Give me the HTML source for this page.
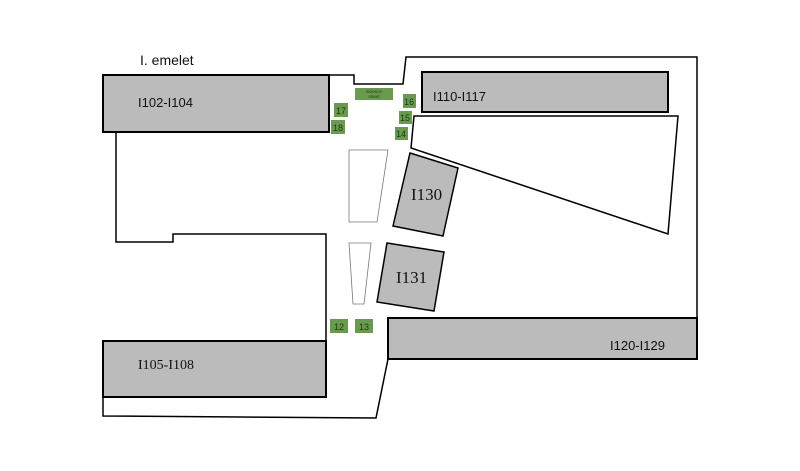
<!DOCTYPE html>
<html><head><style>body{margin:0;background:#fff}svg{display:block}</style></head><body>
<svg width="800" height="471" viewBox="0 0 800 471" xmlns="http://www.w3.org/2000/svg" font-family="Liberation Sans, sans-serif">
<rect width="800" height="471" fill="#fff"/>
<g fill="none" stroke="#000" stroke-width="1.5">
<polyline points="329,75 354,75 354,84 403,84 406,57 697,57 697,359"/>
<polyline points="388,359 376,418 103,416 103,397"/>
<polyline points="116,133 116,242 173,242 173,234 326,234 326,341"/>
</g>
<text x="140" y="65" font-size="14" fill="#111">I. emelet</text>
<rect x="103" y="75" width="226" height="57" fill="#bbb" stroke="#000" stroke-width="2"/>
<text x="138" y="107" font-size="13" fill="#111">I102-I104</text>
<rect x="422" y="72" width="246" height="40" fill="#bbb" stroke="#000" stroke-width="2"/>
<text x="433" y="101" font-size="13" fill="#111">I110-I117</text>
<rect x="103" y="341" width="223" height="56" fill="#bbb" stroke="#000" stroke-width="2"/>
<text x="138" y="369" font-size="14" fill="#111" font-family="Liberation Serif, serif">I105-I108</text>
<rect x="388" y="318" width="309" height="41" fill="#bbb" stroke="#000" stroke-width="2"/>
<text x="610" y="350" font-size="13" fill="#111">I120-I129</text>
<polygon points="414,116 678,116 668,234 411,148" fill="#fff" stroke="#000" stroke-width="1.5"/>
<polygon points="410,153 458,168 443,236 393,226" fill="#bbb" stroke="#000" stroke-width="1.5"/>
<text x="411" y="200" font-size="17" font-family="Liberation Serif, serif" fill="#111">I130</text>
<polygon points="387,243 444,252 434,311 377,302" fill="#bbb" stroke="#000" stroke-width="1.5"/>
<text x="396" y="283" font-size="17" font-family="Liberation Serif, serif" fill="#111">I131</text>
<polygon points="349,150 388,150 377,222 349,222" fill="#fff" stroke="#777" stroke-width="0.8"/>
<polygon points="349,243 371,243 364,304 353,304" fill="#fff" stroke="#777" stroke-width="0.8"/>
<g fill="#6a9a50" font-size="9" text-anchor="middle">
<rect x="355" y="88" width="38" height="12"/>
<rect x="334" y="103" width="14" height="14"/>
<rect x="331" y="120" width="14" height="14"/>
<rect x="403" y="94" width="13" height="14"/>
<rect x="399" y="111" width="13" height="13"/>
<rect x="395" y="127" width="13" height="13"/>
<rect x="330" y="319" width="18" height="14"/>
<rect x="355" y="319" width="18" height="14"/>
</g>
<g fill="#1a3a10" font-size="9" text-anchor="middle">
<text x="374" y="93" font-size="4.5">Science</text>
<text x="374" y="98" font-size="4.5">street</text>
<text x="341" y="114">17</text>
<text x="338" y="131">18</text>
<text x="409" y="105">16</text>
<text x="405" y="121">15</text>
<text x="401" y="137">14</text>
<text x="339" y="330">12</text>
<text x="364" y="330">13</text>
</g>
</svg>
</body></html>
